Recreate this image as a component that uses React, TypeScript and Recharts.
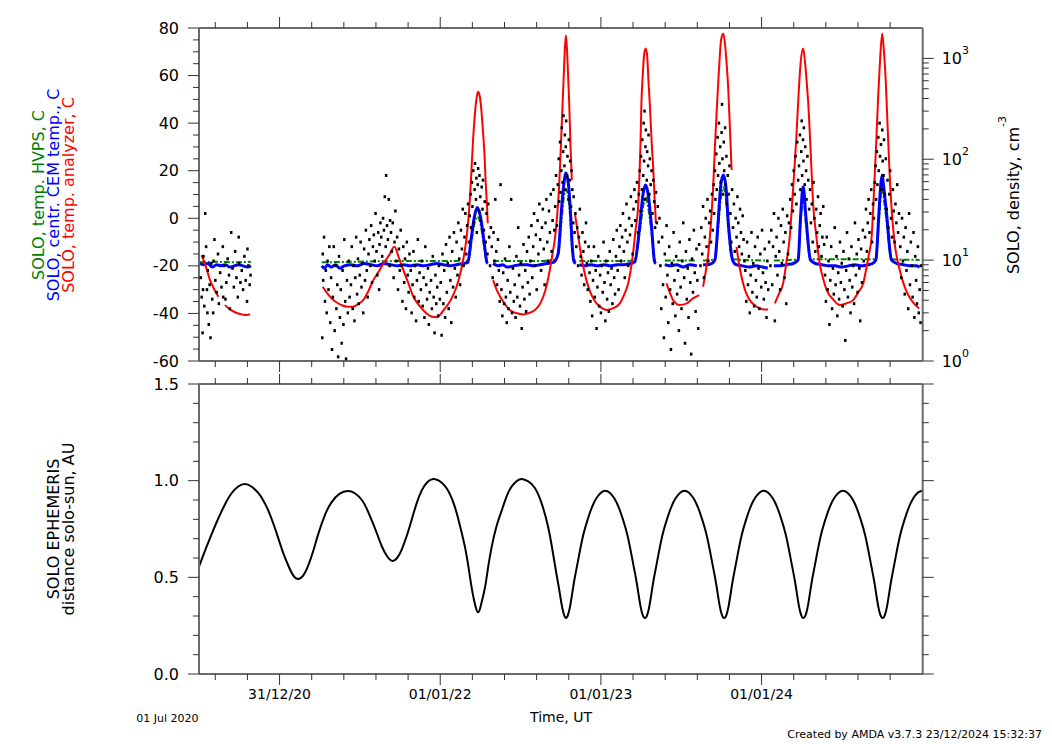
import { ComposedChart, Line, Scatter, XAxis, YAxis } from "recharts";

// time axis: days since 01 Jul 2020
const xDomain: [number, number] = [0, 1644];
const majorDays = [183, 548, 913, 1278];
const majorLabels = ["31/12/20", "01/01/22", "01/01/23", "01/01/24"];
const minorDays = [37, 110, 256, 329, 402, 475, 621, 694, 767, 840, 986, 1059, 1132, 1205, 1351, 1424, 1497, 1570];
const xTicks = [...majorDays, ...minorDays].sort((a, b) => a - b);

const tempTicks = [-60, -55, -50, -45, -40, -35, -30, -25, -20, -15, -10, -5, 0, 5, 10, 15, 20, 25, 30, 35, 40, 45, 50, 55, 60, 65, 70, 75, 80];
const densityTicks = [1, 2, 3, 4, 5, 6, 7, 8, 9, 10, 20, 30, 40, 50, 60, 70, 80, 90, 100, 200, 300, 400, 500, 600, 700, 800, 900, 1000];
const densityMajor = [1, 10, 100, 1000];
const auTicks = [0, 0.1, 0.2, 0.3, 0.4, 0.5, 0.6, 0.7, 0.8, 0.9, 1.0, 1.1, 1.2, 1.3, 1.4, 1.5];

type Pt = [number, number | null];

// SOLO, temp. analyzer, C
const analyzerTemp: Pt[] = [
  [6, -15.5], [15, -20], [25, -26], [35, -30], [44, -33], [50, null], [59, -36.5], [72, -38.5], [86, -39.8], [100, -40.5], [108, -40.7], [116, -40.3], [120, null],
  [281, -28.8], [291, -31.5], [301, -33.6], [312, -35.3], [324, -36.5], [337, -37.2], [350, -37.2], [362, -36], [373, -34.4], [385, -30.5], [396, -26], [408, -22.5], [419, -19], [432, -15.5], [444, -12], [454, -16.5], [464, -21.7], [476, -27.5], [487, -33], [502, -37], [517, -40], [530, -41.4], [540, -41.6], [547, -40.7], [558, -38], [570, -35], [578, -32], [585, -28.8], [591, -25], [597, -20.4], [603, -14.5], [608, -7.8], [613, 2], [617, 13.3], [620, 24], [623, 34.3], [626, 42], [629, 48.3], [632, 52], [634, 53.2], [637, 52], [640, 48.3], [643, 42], [646, 34.3], [649, 25], [651, 16], [654, 6], [656, -2.1], [662, null],
  [668, -26], [674, -29], [680, -31.5], [691, -35], [706, -38.6], [720, -39.8], [737, -40.4], [750, -39.8], [763, -38.6], [773, -36.5], [782, -33], [790, -28], [797, -21.7], [803, -15], [809, -7.8], [814, 2], [818, 13.3], [822, 30], [826, 48.3], [829, 62], [831, 71], [833.5, 77], [836, 71], [838, 62], [841, 48.3], [844, 30], [847, 16], [850, null],
  [854, 2], [860, -5.5], [865, -12], [872, -19.5], [880, -26], [891, -32], [903, -35.8], [915, -37.7], [926, -38.6], [941, -37.8], [956, -35.8], [966, -32], [975, -27.3], [981, -21.5], [986, -14.7], [992, -4.5], [998, 6.3], [1001, 20], [1003, 32], [1005, 48.3], [1008, 60], [1011, 68.5], [1014.5, 71.4], [1018, 68.5], [1021, 58], [1024, 48.3], [1028, 33], [1032, 20.3], [1035, 8], [1038, -2.1], [1050, null],
  [1062, -27.3], [1070, -31.5], [1077, -34.4], [1092, -36.5], [1108, -35.8], [1123, -33.6], [1136, -32.3], [1140, null],
  [1145, -28.8], [1151, -22.5], [1157, -14.7], [1163, -2], [1168, 13.3], [1172, 30], [1176, 45], [1179, 55.3], [1183, 68], [1186, 75], [1191, 77.7], [1195, 73], [1199, 64], [1202, 55.3], [1206, 38], [1210, 20.3], [1215, null],
  [1221, -12], [1228, -20.5], [1236, -27.3], [1243, -31.5], [1251, -34.4], [1262, -36.5], [1274, -37.9], [1284, -38.3], [1293, -38.3], [1300, null],
  [1308, -35.8], [1318, -31.5], [1327, -27.3], [1334, -19], [1342, -7.8], [1348, 8], [1353, 22], [1357, 34.3], [1362, 52], [1367, 66], [1372.5, 71.4], [1377, 65], [1381, 56], [1384, 48.3], [1390, 26], [1395, 6.3], [1402, -7], [1410, -19], [1418, -25.5], [1426, -30.2], [1440, -34], [1456, -36.5], [1470, -35.8], [1486, -34.4], [1498, -31], [1509, -27.3], [1516, -21], [1522, -15], [1528, -7.8], [1532, 6], [1536, 22], [1539, 34.3], [1543, 52], [1547, 66], [1552, 77.7], [1556, 70], [1560, 58], [1564, 40], [1568, 22], [1573, 5], [1580, -10], [1590, -20.4], [1603, -28.8], [1615, -33.5], [1625, -36], [1636, -37.9],
];

// SOLO, centr. CEM temp., C
const cemTemp: Pt[] = [
  [2, -19], [10, -19.5], [20, -19], [30, -20.5], [40, -19.5], [50, -20], [60, -19.5], [70, -20.5], [80, -20], [90, -19.5], [100, -20], [110, -20.5], [118, -20], [119, null],
  [279, -20], [285, -21], [292, -19.5], [300, -20.5], [310, -19.5], [320, -21], [330, -20], [345, -19.5], [360, -20], [375, -19], [390, -19.5], [405, -20], [420, -19], [435, -19.5], [450, -20], [465, -19.5], [480, -20], [495, -19.5], [510, -20], [525, -19.5], [540, -19], [555, -19.5], [570, -20], [585, -19.5], [600, -19], [611, -18.5], [618, -9], [626, 1], [632, 4.5], [639, 1], [647, -9], [654, -18.5], [656, -19], [660, null],
  [668, -19], [680, -20], [690, -19.5], [700, -20.5], [715, -20], [730, -19.5], [745, -19.5], [760, -20], [775, -19.5], [790, -19], [805, -18.5], [809, -18], [816, -14.7], [824, 4.9], [829, 14.7], [833.5, 19], [839, 14.7], [844, 2], [848, -12], [852, -18.3], [856, -19], [860, null],
  [864, -19.5], [875, -20], [890, -19.5], [905, -20], [920, -19.5], [935, -20], [950, -19.5], [965, -19.5], [980, -19], [990, -18.3], [1001, -3.5], [1009, 10.5], [1014.5, 14], [1020, 10.5], [1028, -3.5], [1035, -18.3], [1038, -19], [1048, null],
  [1058, -19.5], [1070, -20], [1085, -19.5], [1100, -20.5], [1115, -19.5], [1131, -20], [1138, null],
  [1145, -19.5], [1155, -19.5], [1165, -19], [1172, -17.5], [1179.5, -0.7], [1185, 13.3], [1191, 18.2], [1197, 13.3], [1202, -0.7], [1212, -17.5], [1220, -19.5], [1235, -20], [1250, -20.5], [1265, -20], [1280, -20.5], [1292, -21], [1298, null],
  [1306, -20], [1320, -20], [1335, -19.5], [1350, -19], [1361, -17.5], [1366.6, 0.7], [1372.5, 13.3], [1378.6, 0.7], [1389, -17.5], [1400, -19], [1415, -19.5], [1430, -20], [1445, -20], [1460, -20.5], [1475, -20], [1490, -19.5], [1505, -20], [1520, -19.5], [1530, -19], [1537.6, -17.5], [1544.5, 2], [1549, 14.7], [1552, 18.2], [1554.5, 14.7], [1561.8, 2], [1573, -17.5], [1585, -19], [1600, -19.5], [1615, -20], [1628, -20], [1637, -20.5],
];

// SOLO, temp. HVPS, C
const hvpsTemp: Pt[] = [
  [2, -18.5], [40, -18.3], [80, -18.5], [118, -18.3], [119, null],
  [279, -18.5], [350, -18.3], [450, -18], [550, -18], [611, -17.8], [618, -11], [626, -2], [632, 0.7], [639, -2], [647, -11], [654, -17.8], [656, -18], [660, null],
  [668, -18], [760, -18], [809, -17.5], [816, -15], [824, 0], [829, 9], [833.5, 12], [839, 9], [844, -2], [848, -13], [852, -17.5], [856, -17.8], [860, null],
  [864, -18], [960, -18], [990, -17.5], [1001, -6], [1009, 5], [1014.5, 9], [1020, 5], [1028, -6], [1035, -17.5], [1038, -17.8], [1048, null],
  [1058, -17.8], [1131, -17.8], [1138, null],
  [1145, -17.8], [1172, -17.2], [1179.5, -4], [1185, 8], [1191, 13], [1197, 8], [1202, -4], [1212, -17.2], [1292, -17.8], [1298, null],
  [1306, -17.8], [1361, -17.2], [1366.6, -2], [1372.5, 9], [1378.6, -2], [1389, -17.2], [1537.6, -17.2], [1544.5, -1], [1549, 10], [1552, 13], [1554.5, 10], [1561.8, -1], [1573, -17.2], [1637, -17.5],
];

// SOLO, density, cm-3
const densityOrbit0: Pt[] = [
  [4, 6.7], [6, 4.3], [8, 1.9], [9, 5.1], [10, 10.9], [12, 3.5], [14, 29], [16, 13.6], [18, 5.1], [19, 3.0], [20, 7.9], [22, 2.3], [24, 5.7], [26, 1.7], [28, 9.3], [30, 4.1], [32, 3.0], [33, 9.8], [35, 16], [37, 6.3], [40, 4.8], [43, 11.5], [45, 3.7], [48, 7.5], [51, 5.4], [54, 13.6], [55, 4.3], [57, 8.8], [60, 4.1], [62, 6.0], [65, 10.3], [68, 7.1], [70, 3.3], [73, 18.8], [76, 8.3], [79, 5.4], [82, 12.2], [85, 6.7], [88, 4.3], [90, 16.9], [91, 9.3], [94, 6.0], [97, 7.9], [100, 5.1], [103, 10.9], [106, 6.3], [109, 3.9], [110, 12.9], [112, 8.8], [115, 5.7], [117, 7.1],
];
const densityOrbit1: Pt[] = [
  [280, 1.7], [281, 11.5], [282, 6.3], [284, 16.9], [286, 3.9], [288, 7.9], [290, 3.0], [292, 9.8], [294, 5.1], [296, 13.6], [298, 2.4], [300, 6.7], [302, 1.3], [304, 4.3], [306, 13.6], [308, 2.0], [310, 8.8], [312, 3.3], [314, 5.7], [316, 1.1], [318, 10.9], [320, 2.7],
  [322, 5.1], [324, 1.5], [326, 7.9], [328, 2.3], [330, 16], [332, 3.9], [334, 1.05], [336, 6.3], [338, 3.0], [340, 9.8], [342, 4.3], [345, 5.7], [347, 13.6], [349, 3.3], [351, 8.8], [353, 2.5], [355, 6.7], [357, 16.9], [359, 4.6], [361, 10.3], [363, 3.7], [365, 7.1],
  [367, 15.1], [369, 5.4], [371, 9.3], [373, 3.0], [375, 12.9], [377, 6.3], [379, 19.8], [381, 7.9], [383, 4.3], [385, 11.5], [387, 16], [389, 8.8], [391, 22], [393, 6], [395, 13.6], [397, 17.8], [399, 9.8], [401, 29], [403, 12.2], [405, 7.1], [407, 18.8], [409, 5.1], [410, 14.3],
  [412, 23.4], [414, 16.9], [416, 10.9], [418, 26], [420, 19.8], [422, 42.5], [424, 13.6], [425, 69], [427, 22], [429, 16], [431, 40], [433, 8.8], [434, 24.7], [436, 18.8], [438, 12.2], [440, 23.4], [442, 6.7], [444, 15.1], [446, 30.7], [448, 9.8], [450, 16.9], [452, 5.1], [454, 12.9], [456, 7.9],
  [458, 19.8], [460, 8.8], [462, 3.9], [464, 13.6], [466, 6], [468, 10.3], [470, 3.3], [472, 15.1], [474, 7.1], [476, 4.8], [478, 11.5], [481, 7.9], [483, 3.0], [485, 5.7], [487, 12.2], [489, 4.3], [491, 8.8], [493, 2.5], [495, 6.3], [497, 16], [499, 3.9], [501, 7.5],
  [504, 5.1], [506, 9.8], [508, 3.5], [510, 6.7], [512, 2.7], [514, 13.6], [516, 5.7], [518, 4.1], [520, 8.3], [522, 2.3], [524, 4.8], [527, 6.3], [529, 3.3], [531, 10.9], [533, 4.3], [535, 1.9], [537, 7.1], [539, 3.7], [541, 5.4], [543, 2.8], [545, 8.8], [547, 4.1],
];
const densityOrbit2: Pt[] = [
  [549, 6], [551, 1.8], [553, 11.5], [555, 3.7], [557, 7.9], [559, 2.7], [561, 14.3], [563, 4.8], [565, 9.3], [567, 3.3], [569, 16.9], [571, 6.3], [573, 2.4], [575, 12.2], [577, 5.4], [579, 18.8], [581, 8.3],
  [583, 4.3], [585, 15.1], [587, 7.1], [589, 23.4], [591, 10.3], [593, 5.7], [595, 19.8], [597, 12.9], [599, 32], [601, 8.8], [603, 16.9], [605, 29], [607, 11.5], [609, 22], [611, 36], [613, 15.1], [615, 27.5],
  [617, 45], [618, 21], [620, 59], [621, 34], [623, 77], [624, 23.4], [626, 50], [627, 91], [629, 40], [630, 65], [631, 18.8], [633, 56], [634, 81], [636, 30.7], [637, 69], [639, 42.5], [640, 24.7], [642, 53], [644, 32], [645, 62], [647, 19.8], [649, 38],
  [651, 15.1], [653, 29], [655, 11.5], [657, 36], [659, 16.9], [661, 8.8], [663, 21], [665, 13.6], [667, 6.7], [669, 18.8], [671, 9.8], [673, 40], [675, 12.2], [677, 5.7], [679, 16], [681, 7.9], [683, 3.9],
  [685, 56], [687, 5.1], [689, 2.8], [691, 7.5], [693, 3.7], [695, 10.3], [697, 4.3], [699, 2.4], [701, 6.3], [703, 3.3], [705, 13.6], [707, 4.8], [709, 40], [711, 3.0], [713, 8.3], [715, 3.9], [717, 5.7], [719, 2.7], [721, 10.9], [723, 4.3], [725, 21], [727, 7.1], [729, 3.5], [731, 9.3], [733, 2.1], [735, 5.4], [737, 14.3], [739, 4.1], [741, 7.9], [743, 3.1], [745, 12.2], [747, 6], [749, 16.9], [751, 4.6],
  [753, 9.8], [755, 22], [757, 6.7], [759, 13.6], [761, 29], [763, 8.8], [765, 17.8], [767, 5.1], [769, 24.7], [771, 11.5], [773, 36], [775, 16], [777, 7.9], [779, 21], [781, 32], [783, 12.9], [785, 5.7], [787, 23.4], [789, 40], [791, 15.1], [793, 9.8], [795, 30.7], [797, 18.8], [799, 45], [801, 12.2], [803, 24.7], [805, 50], [807, 19.8],
  [809, 34], [811, 69], [813, 22], [815, 56], [817, 101], [818, 38], [820, 148], [821, 47], [823, 77], [824, 205], [826, 59], [827, 119], [828, 270], [830, 86], [831, 174], [832, 50], [833, 133], [834, 240], [836, 69], [837, 107], [839, 40], [840, 156], [842, 62], [843, 96], [845, 34], [846, 77], [848, 50], [850, 23.4], [851, 42.5], [853, 18.8],
];
const densityOrbit3: Pt[] = [
  [855, 29], [857, 13.6], [859, 21], [861, 8.8], [863, 16.9], [865, 32], [867, 10.9], [869, 7.1], [871, 18.8], [873, 12.2], [875, 5.7], [877, 15.1], [879, 23.4], [881, 9.3], [883, 5.1], [885, 13.6], [887, 7.5],
  [889, 3.9], [891, 9.8], [893, 2.8], [895, 6.3], [897, 13.6], [899, 4.3], [901, 7.9], [903, 2.1], [905, 5.4], [907, 10.9], [909, 3.5], [911, 7.1], [913, 3.0], [915, 8.8], [917, 4.8], [919, 15.1], [921, 6], [923, 2.5], [925, 9.8], [927, 4.1], [929, 7.5], [931, 3.1], [933, 12.2], [935, 5.7], [937, 8.3], [939, 3.7], [941, 16], [943, 6.7], [945, 4.6], [947, 10.9], [949, 19.8], [951, 7.9], [953, 5.1], [955, 13.6],
  [957, 22], [959, 9.8], [961, 16.9], [963, 29], [965, 12.2], [967, 6.7], [969, 19.8], [971, 36], [973, 15.1], [975, 8.8], [977, 26], [979, 17.8], [981, 42.5], [983, 22], [985, 11.5], [987, 32], [989, 50], [991, 24.7], [993, 38], [995, 59], [997, 18.8], [999, 45],
  [1001, 77], [1003, 30.7], [1004, 107], [1006, 50], [1007, 156], [1009, 69], [1010, 228], [1011, 96], [1012, 300], [1013, 40], [1014, 133], [1015, 195], [1017, 62], [1018, 119], [1020, 86], [1021, 174], [1023, 45], [1024, 101], [1026, 56], [1028, 77], [1030, 29], [1032, 62], [1034, 38], [1036, 21], [1038, 47], [1040, 23.4], [1042, 34], [1044, 15.1], [1046, 26],
];
const densityOrbit4: Pt[] = [
  [1048, 8.8], [1050, 3.3], [1052, 16.9], [1054, 5.7], [1056, 1.7], [1058, 11.5], [1060, 4.3], [1062, 22], [1064, 7.1], [1066, 2.4], [1068, 13.6], [1070, 5.1], [1072, 1.3], [1074, 9.3], [1076, 3.7], [1078, 18.8], [1080, 6.3], [1082, 2.8], [1084, 10.9], [1086, 4.6], [1088, 7.9], [1090, 2.0], [1092, 15.1], [1094, 5.4], [1096, 3.3], [1098, 9.8], [1100, 23.4], [1102, 6.7], [1104, 1.5], [1106, 12.2], [1108, 4.1], [1110, 8.3], [1112, 2.7], [1114, 16], [1116, 6], [1118, 1.17], [1120, 10.3], [1122, 4.8], [1124, 19.8], [1126, 7.5], [1128, 3.1], [1130, 12.9], [1132, 6.3], [1134, 2.1], [1136, 14.3],
  [1139, 8.8], [1141, 21], [1143, 11.5], [1145, 34], [1147, 6.7], [1149, 16.9], [1151, 26], [1153, 13.6], [1155, 40], [1157, 9.8], [1159, 23.4], [1161, 30.7], [1163, 15.1], [1165, 45], [1167, 19.8],
  [1169, 56], [1170, 29], [1172, 77], [1173, 40], [1175, 113], [1176, 50], [1178, 165], [1179, 69], [1181, 228], [1182, 91], [1184, 133], [1185, 59], [1187, 184], [1188, 350], [1189, 101], [1190, 45], [1192, 148], [1193, 77], [1195, 205], [1196, 56], [1198, 107], [1199, 36], [1201, 69], [1203, 45], [1205, 86],
  [1207, 29], [1209, 15.1], [1211, 50], [1213, 21], [1215, 36], [1217, 12.2], [1219, 26], [1221, 16.9], [1223, 42.5], [1225, 23.4], [1227, 13.6], [1229, 32], [1231, 18.8], [1233, 11.5], [1235, 27.5], [1237, 16], [1239, 9.8],
];
const densityOrbit5: Pt[] = [
  [1241, 7.9], [1243, 3.9], [1245, 15.1], [1247, 5.7], [1249, 10.9], [1251, 3.0], [1253, 7.1], [1255, 18.8], [1257, 4.8], [1259, 9.3], [1261, 3.5], [1263, 13.6], [1265, 6.3], [1267, 4.3], [1269, 16.9], [1271, 8.3], [1273, 3.3], [1275, 11.5], [1277, 5.4], [1279, 19.8], [1281, 7.5], [1283, 4.1], [1285, 12.9], [1287, 6], [1289, 2.7], [1291, 9.8], [1293, 5.1], [1295, 15.1],
  [1298, 8.8], [1300, 19.8], [1302, 5.7], [1304, 13.6], [1306, 29], [1308, 2.5], [1310, 10.9], [1312, 16.9], [1314, 7.1], [1316, 26], [1318, 12.2], [1320, 5.1], [1322, 22], [1324, 9.3], [1326, 32], [1328, 15.1], [1330, 6.7], [1332, 18.8], [1334, 3.7], [1336, 27.5], [1338, 11.5], [1340, 23.4],
  [1343, 40], [1345, 21], [1347, 56], [1349, 30.7], [1351, 77], [1353, 45], [1355, 107], [1357, 36], [1359, 148], [1361, 62], [1363, 86],
  [1365, 174], [1366, 50], [1368, 119], [1369, 240], [1370, 69], [1372, 156], [1373, 96], [1374, 205], [1376, 56], [1377, 133], [1379, 77], [1380, 40], [1382, 107], [1384, 62], [1386, 32],
  [1388, 50], [1390, 23.4], [1392, 36], [1394, 15.1], [1396, 59], [1398, 26], [1400, 12.2], [1402, 32], [1404, 18.8], [1406, 42.5], [1408, 13.6], [1410, 22], [1412, 29], [1414, 10.9], [1416, 16.9], [1418, 34], [1420, 14.3],
];
const densityOrbit6: Pt[] = [
  [1422, 7.1], [1424, 3.9], [1426, 16.9], [1428, 5.1], [1430, 9.8], [1432, 2.3], [1434, 6.3], [1436, 13.6], [1438, 3.3], [1440, 8.3], [1442, 4.6], [1444, 21], [1446, 5.7], [1448, 10.9], [1450, 2.8], [1452, 7.5], [1454, 4.1], [1456, 15.1], [1458, 6], [1460, 9.3], [1462, 3.5], [1464, 12.2], [1466, 5.1], [1468, 1.6], [1470, 7.9], [1472, 18.8], [1474, 4.3], [1476, 10.3], [1478, 6.3], [1480, 3.0], [1482, 13.6], [1484, 5.4], [1486, 8.8], [1488, 3.7], [1490, 23.4], [1492, 7.1], [1494, 11.5], [1496, 4.8], [1498, 16], [1500, 8.3], [1502, 2.5], [1504, 12.9], [1506, 6], [1508, 19.8], [1510, 9.8],
  [1513, 16.9], [1515, 32], [1517, 12.2], [1519, 23.4], [1521, 40], [1523, 18.8], [1525, 29], [1527, 50], [1529, 15.1], [1531, 36], [1533, 26], [1535, 59],
  [1537, 86], [1538, 40], [1540, 119], [1541, 56], [1543, 165], [1544, 77], [1546, 228], [1547, 107], [1549, 140], [1550, 50], [1552, 195], [1553, 96], [1555, 69], [1556, 156], [1558, 45],
  [1560, 101], [1562, 32], [1564, 62], [1566, 21], [1568, 45], [1570, 77], [1572, 26], [1574, 16.9], [1576, 50], [1578, 30.7], [1580, 15.1], [1582, 36], [1584, 23.4], [1586, 56], [1588, 18.8], [1590, 29],
  [1593, 13.6], [1595, 6.7], [1597, 26], [1599, 9.8], [1601, 16.9], [1603, 4.6], [1605, 21], [1607, 7.9], [1609, 12.2], [1611, 3.3], [1613, 29], [1615, 5.7], [1617, 15.1], [1619, 8.8], [1621, 4.3], [1623, 18.8], [1625, 2.7], [1627, 10.9], [1629, 6.3], [1631, 3.7], [1633, 13.6], [1635, 3.0], [1637, 5.1], [1639, 2.4], [1640, 8.8],
];

// SOLO EPHEMERIS distance solo-sun, AU
const distance: Pt[] = [
  [0, 0.555], [14, 0.64], [29, 0.725], [40, 0.785], [52, 0.845], [63, 0.895], [74, 0.935], [89, 0.97], [104, 0.983], [119, 0.97], [135, 0.935], [146, 0.898], [157, 0.848], [169, 0.777], [180, 0.703], [191, 0.628], [203, 0.56], [214, 0.51], [225, 0.491], [237, 0.51], [248, 0.56], [260, 0.64], [271, 0.725], [286, 0.822], [301, 0.888], [319, 0.932], [338, 0.947], [354, 0.935], [370, 0.9], [381, 0.855], [392, 0.797], [404, 0.728], [415, 0.662], [427, 0.61], [439, 0.585], [450, 0.6], [460, 0.641], [472, 0.715], [483, 0.797], [494, 0.88], [506, 0.95], [519, 0.993], [532, 1.009], [545, 1.0], [559, 0.972], [570, 0.93], [581, 0.866], [592, 0.775], [604, 0.659], [612, 0.555], [619, 0.452], [625, 0.38], [630, 0.335], [634, 0.319], [638, 0.335], [643, 0.38], [650, 0.452], [657, 0.555], [665, 0.659], [676, 0.765], [688, 0.848], [699, 0.92], [710, 0.969], [722, 0.998], [733, 1.009], [748, 0.996], [763, 0.962], [778, 0.885], [793, 0.762], [803, 0.64], [811, 0.53], [818, 0.44], [823, 0.37], [828, 0.315], [833, 0.29],
  [838, 0.305], [843, 0.35], [848, 0.42], [853, 0.49], [858, 0.55], [863, 0.61], [873, 0.72], [883, 0.8], [893, 0.865], [903, 0.91], [913, 0.938], [923, 0.948],
  [933, 0.938], [943, 0.91], [953, 0.865], [963, 0.8], [973, 0.72], [983, 0.61], [988, 0.55], [993, 0.49], [998, 0.42], [1003, 0.35], [1008, 0.305], [1013, 0.29], [1018, 0.305], [1023, 0.35], [1028, 0.42], [1033, 0.49], [1038, 0.55], [1043, 0.61], [1053, 0.72], [1063, 0.8], [1073, 0.865], [1083, 0.91], [1093, 0.938], [1103, 0.948],
  [1113, 0.938], [1123, 0.91], [1133, 0.865], [1143, 0.8], [1153, 0.72], [1163, 0.61], [1168, 0.55], [1173, 0.49], [1178, 0.42], [1183, 0.35], [1188, 0.305], [1193, 0.29], [1198, 0.305], [1203, 0.35], [1208, 0.42], [1213, 0.49], [1218, 0.55], [1223, 0.61], [1233, 0.72], [1243, 0.8], [1253, 0.865], [1263, 0.91], [1273, 0.938], [1283, 0.948],
  [1293, 0.938], [1303, 0.91], [1313, 0.865], [1323, 0.8], [1333, 0.72], [1343, 0.61], [1348, 0.55], [1353, 0.49], [1358, 0.42], [1363, 0.35], [1368, 0.305], [1373, 0.29], [1378, 0.305], [1383, 0.35], [1388, 0.42], [1393, 0.49], [1398, 0.55], [1403, 0.61], [1413, 0.72], [1423, 0.8], [1433, 0.865], [1443, 0.91], [1453, 0.938], [1463, 0.948],
  [1473, 0.938], [1483, 0.91], [1493, 0.865], [1503, 0.8], [1513, 0.72], [1523, 0.61], [1528, 0.55], [1533, 0.49], [1538, 0.42], [1543, 0.35], [1548, 0.305], [1553, 0.29], [1558, 0.305], [1563, 0.35], [1568, 0.42], [1573, 0.49], [1578, 0.55], [1583, 0.61], [1593, 0.72], [1603, 0.8], [1613, 0.865], [1623, 0.91], [1633, 0.938], [1643, 0.948],
];

const rows = (pts: Pt[], key: string) => pts.map(([d, v]) => ({ d, [key]: v }));

const densityRows = rows(
  [...densityOrbit0, ...densityOrbit1, ...densityOrbit2, ...densityOrbit3, ...densityOrbit4, ...densityOrbit5, ...densityOrbit6],
  "n"
);

const AXIS = "#6a6a6a";
const TICK = "#333";
const axisLine = { stroke: AXIS, strokeWidth: 2 };

const tickLen = (major: boolean) => (major ? 11 : 6);

const XTickUp = ({ x, y, payload }: any) => (
  <line x1={x} x2={x} y1={y} y2={y - tickLen(majorDays.includes(payload.value))} stroke={TICK} />
);

const XTickDown = ({ x, y, payload }: any) => (
  <line x1={x} x2={x} y1={y} y2={y + tickLen(majorDays.includes(payload.value))} stroke={TICK} />
);

const XTickDownLabel = ({ x, y, payload }: any) => {
  const i = majorDays.indexOf(payload.value);
  return (
    <g>
      <line x1={x} x2={x} y1={y} y2={y + tickLen(i >= 0)} stroke={TICK} />
      {i >= 0 && (
        <text x={x} y={y + 25} textAnchor="middle" fontSize={14} fill="#000">
          {majorLabels[i]}
        </text>
      )}
    </g>
  );
};

const TempTick = ({ x, y, payload }: any) => {
  const major = payload.value % 20 === 0;
  return (
    <g>
      <line x1={x - tickLen(major)} x2={x} y1={y} y2={y} stroke={TICK} />
      {major && (
        <text x={x - 20} y={y} textAnchor="end" dominantBaseline="central" fontSize={16} fill="#000">
          {payload.value}
        </text>
      )}
    </g>
  );
};

const DensityTick = ({ x, y, payload }: any) => {
  const exp = densityMajor.indexOf(payload.value);
  return (
    <g>
      <line x1={x} x2={x + tickLen(exp >= 0)} y1={y} y2={y} stroke={TICK} />
      {exp >= 0 && (
        <text x={x + 19} y={y + 6} fontSize={16} fill="#000">
          10
          <tspan dy={-10.5} fontSize={11}>
            {exp}
          </tspan>
        </text>
      )}
    </g>
  );
};

const isAuMajor = (v: number) => Math.round(v * 10) % 5 === 0;

const AuTickLeft = ({ x, y, payload }: any) => {
  const major = isAuMajor(payload.value);
  return (
    <g>
      <line x1={x - tickLen(major)} x2={x} y1={y} y2={y} stroke={TICK} />
      {major && (
        <text x={x - 20} y={y} textAnchor="end" dominantBaseline="central" fontSize={16} fill="#000">
          {payload.value.toFixed(1)}
        </text>
      )}
    </g>
  );
};

const AuTickRight = ({ x, y, payload }: any) => (
  <line x1={x} x2={x + tickLen(isAuMajor(payload.value))} y1={y} y2={y} stroke={TICK} />
);

const DensityDot = ({ cx, cy }: any) => <rect x={cx - 1.2} y={cy - 1.5} width={2.5} height={3} fill="#000" />;

export default function App() {
  return (
    <div
      style={{
        position: "absolute",
        left: 0,
        top: 0,
        width: 1052,
        height: 744,
        background: "#fff",
        fontFamily: "'DejaVu Sans', sans-serif",
      }}
    >
      <div style={{ position: "absolute", left: 0, top: 0 }}>
        <ComposedChart width={1052} height={375} margin={{ top: 18, right: 89.3, bottom: 2, left: 159 }}>
          <XAxis xAxisId="top" orientation="top" type="number" dataKey="d" domain={xDomain} ticks={xTicks} interval={0}
            allowDataOverflow height={10} tickSize={0} tickMargin={0} tickLine={false} axisLine={axisLine} tick={XTickUp} />
          <XAxis orientation="bottom" type="number" dataKey="d" domain={xDomain} ticks={xTicks} interval={0}
            allowDataOverflow height={12} tickSize={0} tickMargin={0} tickLine={false} axisLine={axisLine} tick={XTickDown} />
          <YAxis yAxisId="left" type="number" domain={[-60, 80]} ticks={tempTicks} interval={0} allowDataOverflow
            width={40} tickSize={0} tickMargin={0} tickLine={false} axisLine={axisLine} tick={TempTick} />
          <YAxis yAxisId="right" orientation="right" type="number" scale="log" dataKey="n" domain={[1, 2000]}
            ticks={densityTicks} interval={0} allowDataOverflow width={40} tickSize={0} tickMargin={0} tickLine={false}
            axisLine={axisLine} tick={DensityTick} />
          <Scatter yAxisId="right" data={densityRows} dataKey="n" shape={DensityDot} isAnimationActive={false} />
          <Line yAxisId="left" data={rows(hvpsTemp, "t")} dataKey="t" type="monotone" stroke="#008000" strokeWidth={2}
            strokeDasharray="6 2 2 2" dot={false} activeDot={false} isAnimationActive={false} />
          <Line yAxisId="left" data={rows(cemTemp, "t")} dataKey="t" type="monotone" stroke="#0000ff" strokeWidth={3}
            dot={false} activeDot={false} isAnimationActive={false} />
          <Line yAxisId="left" data={rows(analyzerTemp, "t")} dataKey="t" type="monotone" stroke="#ff0000" strokeWidth={2}
            dot={false} activeDot={false} isAnimationActive={false} />
        </ComposedChart>
      </div>

      <div style={{ position: "absolute", left: 0, top: 374 }}>
        <ComposedChart width={1052} height={340} margin={{ top: 0, right: 89.3, bottom: 10, left: 159 }}>
          <XAxis xAxisId="top" orientation="top" type="number" dataKey="d" domain={xDomain} ticks={xTicks} interval={0}
            allowDataOverflow height={10} tickSize={0} tickMargin={0} tickLine={false} axisLine={axisLine} tick={XTickUp} />
          <XAxis orientation="bottom" type="number" dataKey="d" domain={xDomain} ticks={xTicks} interval={0}
            allowDataOverflow height={30} tickSize={0} tickMargin={0} tickLine={false} axisLine={axisLine} tick={XTickDownLabel} />
          <YAxis yAxisId="left" type="number" domain={[0, 1.5]} ticks={auTicks} interval={0} allowDataOverflow
            width={40} tickSize={0} tickMargin={0} tickLine={false} axisLine={axisLine} tick={AuTickLeft} />
          <YAxis yAxisId="right" orientation="right" type="number" domain={[0, 1.5]} ticks={auTicks} interval={0}
            allowDataOverflow width={40} tickSize={0} tickMargin={0} tickLine={false} axisLine={axisLine} tick={AuTickRight} />
          <Line yAxisId="left" data={rows(distance, "au")} dataKey="au" type="natural" stroke="#000" strokeWidth={2}
            dot={false} activeDot={false} isAnimationActive={false} />
        </ComposedChart>
      </div>

      <svg width={1052} height={744} style={{ position: "absolute", left: 0, top: 0, pointerEvents: "none" }}>
        <g fontSize={16} textAnchor="middle">
          <text x={43.5} y={195} transform="rotate(-90 43.5 195)" fill="#008000">SOLO, temp. HVPS, C</text>
          <text x={58.5} y={195} transform="rotate(-90 58.5 195)" fill="#0000ff">SOLO, centr. CEM temp., C</text>
          <text x={73.5} y={195} transform="rotate(-90 73.5 195)" fill="#ff0000">SOLO, temp. analyzer, C</text>
          <text x={59} y={529} transform="rotate(-90 59 529)" fill="#000">SOLO EPHEMERIS</text>
          <text x={73.5} y={529} transform="rotate(-90 73.5 529)" fill="#000">distance solo-sun, AU</text>
          <text x={1018.5} y={195} transform="rotate(-90 1018.5 195)" fill="#000">
            SOLO, density, cm
            <tspan dy={-13} fontSize={11}>-3</tspan>
          </text>
        </g>
        <text x={561} y={722} textAnchor="middle" fontSize={14} fill="#000">Time, UT</text>
        <text x={198.5} y={722} textAnchor="end" fontSize={11} fill="#000">01 Jul 2020</text>
        <text x={1042} y={738} textAnchor="end" fontSize={11} fill="#000">Created by AMDA v3.7.3 23/12/2024 15:32:37</text>
      </svg>
    </div>
  );
}
